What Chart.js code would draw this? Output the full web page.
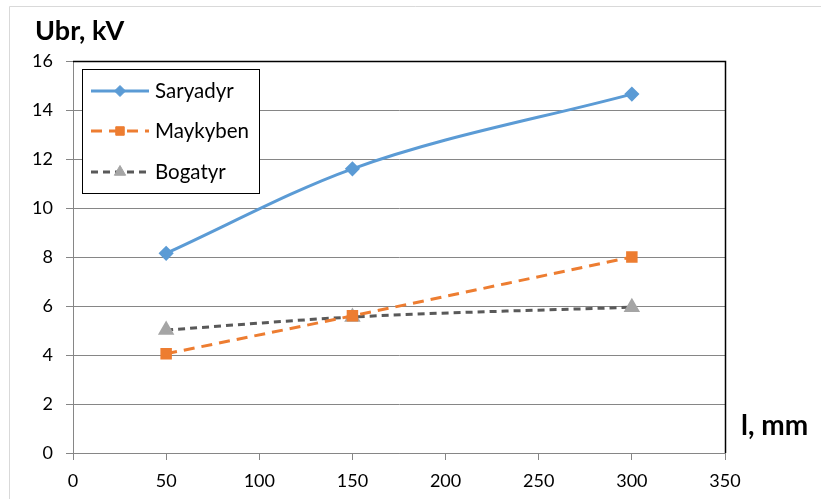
<!DOCTYPE html>
<html>
<head>
<meta charset="utf-8">
<script src="https://cdn.jsdelivr.net/npm/chart.js@4.4.1/dist/chart.umd.min.js"></script>
<style>
html,body{margin:0;padding:0;background:#fff;}
#wrap{position:relative;width:821px;height:499px;}
canvas{display:block;}
</style>
</head>
<body>
<div id="wrap"><canvas id="c" width="821" height="499"></canvas></div>
<script>
const seriesNames = ["Saryadyr", "Maykyben", "Bogatyr"];
const lengthsMm = [50, 150, 300];
const saryadyr = [8.15, 11.6, 14.65];
const maykyben = [4.05, 5.6, 8.0];
const bogatyr = [5.02, 5.55, 5.95];
const xTicks = [0, 50, 100, 150, 200, 250, 300, 350];
const yTicks = [0, 2, 4, 6, 8, 10, 12, 14, 16];
const yTitle = "Ubr, kV";
const xTitle = "l, mm";

const FONT = "Lato, 'Open Sans', sans-serif";
const toPts = vals => lengthsMm.map((x, i) => ({x: x, y: vals[i]}));

const datasets = [
  {label: seriesNames[0], data: toPts(saryadyr), borderColor: "#5b9bd5", backgroundColor: "#5b9bd5",
   pointBorderColor: "#5b9bd5", borderWidth: 3, pointStyle: "rectRot", pointRadius: 5.5, pointHoverRadius: 5.5,
   tension: 0.4, cubicInterpolationMode: "monotone"},
  {label: seriesNames[1], data: toPts(maykyben), borderColor: "#ed7d31", backgroundColor: "#ed7d31",
   pointBorderColor: "#ed7d31", borderWidth: 3, borderDash: [11, 7], pointStyle: "rect", pointRadius: 6, pointHoverRadius: 6,
   tension: 0.4, cubicInterpolationMode: "monotone"},
  {label: seriesNames[2], data: toPts(bogatyr), borderColor: "#595959", backgroundColor: "#a5a5a5",
   pointBorderColor: "#a5a5a5", borderWidth: 3, borderDash: [7, 5], pointStyle: "triangle", pointRadius: 6.5, pointHoverRadius: 6.5,
   tension: 0.4, cubicInterpolationMode: "monotone"}
];

const decor = {
  id: "decor",
  beforeDraw(chart) {
    const ctx = chart.ctx;
    ctx.save();
    ctx.fillStyle = "#fff";
    ctx.fillRect(0, 0, chart.width, chart.height);
    ctx.strokeStyle = "#d9d9d9";
    ctx.lineWidth = 1;
    ctx.beginPath();
    ctx.moveTo(9.5, 499); ctx.lineTo(9.5, 6.5); ctx.lineTo(821, 6.5);
    ctx.stroke();
    ctx.restore();
  },
  afterDatasetsDraw(chart) {
    const ctx = chart.ctx;
    const a = chart.chartArea;
    ctx.save();
    ctx.strokeStyle = "#000";
    ctx.lineWidth = 1.5;
    ctx.beginPath();
    ctx.moveTo(a.left, a.top + 0.5); ctx.lineTo(a.right + 0.5, a.top + 0.5); ctx.lineTo(a.right + 0.5, a.bottom);
    ctx.stroke();
    ctx.fillStyle = "#000";
    ctx.font = "bold 27px " + FONT;
    ctx.textBaseline = "alphabetic";
    ctx.textAlign = "left";
    ctx.fillText(yTitle, 35, 40);
    ctx.font = "bold 28px " + FONT;
    ctx.fillText(xTitle, 741, 435);
    const lx = 82, ly = 69, lw = 177, lh = 124;
    ctx.fillStyle = "#fff";
    ctx.fillRect(lx, ly, lw, lh);
    ctx.strokeStyle = "#000";
    ctx.lineWidth = 1;
    ctx.strokeRect(lx + 0.5, ly + 0.5, lw, lh);
    const rows = [91, 131, 172];
    chart.data.datasets.forEach((ds, i) => {
      const y = rows[i];
      ctx.save();
      ctx.strokeStyle = ds.borderColor;
      ctx.lineWidth = ds.borderWidth;
      ctx.setLineDash(ds.borderDash || []);
      ctx.beginPath();
      ctx.moveTo(91, y); ctx.lineTo(149, y);
      ctx.stroke();
      ctx.restore();
      ctx.save();
      ctx.fillStyle = ds.backgroundColor;
      ctx.strokeStyle = ds.pointBorderColor;
      ctx.lineWidth = 1;
      Chart.helpers.drawPoint(ctx, {pointStyle: ds.pointStyle, radius: ds.pointRadius, borderWidth: 1, rotation: 0}, 120, y);
      ctx.restore();
      ctx.fillStyle = "#000";
      ctx.font = "20.5px " + FONT;
      ctx.textBaseline = "middle";
      ctx.textAlign = "left";
      ctx.fillText(ds.label, 155, y);
    });
    ctx.restore();
  }
};

new Chart(document.getElementById("c"), {
  type: "line",
  data: {datasets: datasets},
  options: {
    responsive: false,
    animation: false,
    events: [],
    layout: {padding: {left: 0, top: 61, right: 96, bottom: 0}},
    plugins: {legend: {display: false}, tooltip: {enabled: false}, title: {display: false}},
    scales: {
      x: {
        type: "linear", min: 0, max: 350,
        afterBuildTicks: s => { s.ticks = xTicks.map(v => ({value: v})); },
        afterFit: s => { s.height = 46; },
        grid: {drawOnChartArea: false, drawTicks: true, tickLength: 7, color: "#868686", lineWidth: 1},
        border: {color: "#868686", width: 1},
        ticks: {color: "#000", font: {family: FONT, size: 18}, padding: 10, maxRotation: 0}
      },
      y: {
        type: "linear", min: 0, max: 16,
        afterBuildTicks: s => { s.ticks = yTicks.map(v => ({value: v})); },
        afterFit: s => { s.width = 73; },
        grid: {color: "#868686", lineWidth: 1, tickLength: 7, drawTicks: true},
        border: {color: "#868686", width: 1},
        ticks: {color: "#000", font: {family: FONT, size: 18}, padding: 13}
      }
    }
  },
  plugins: [decor]
});
</script>
</body>
</html>
